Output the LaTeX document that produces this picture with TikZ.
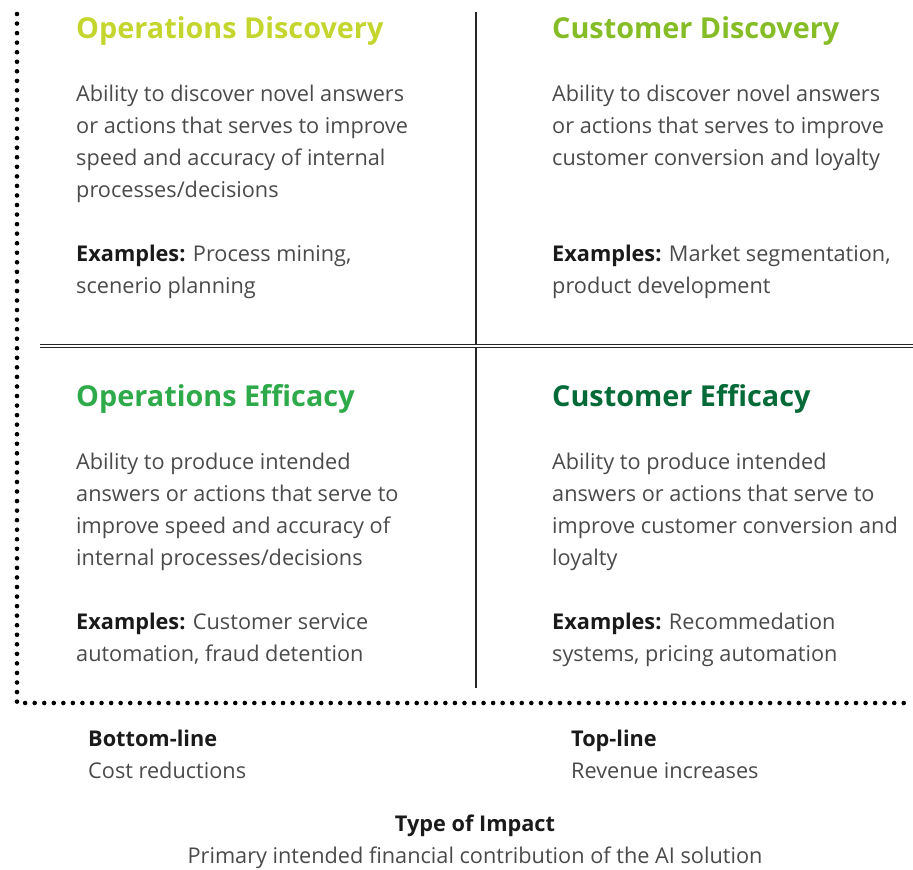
\documentclass[tikz,border=0pt]{standalone}
\usepackage{fontspec}
\setmainfont{Open Sans}
\definecolor{opdisc}{HTML}{C4D62E}
\definecolor{cudisc}{HTML}{86BC25}
\definecolor{opeff}{HTML}{2EAA4A}
\definecolor{cueff}{HTML}{046A38}
\definecolor{bodygray}{HTML}{4A4A4A}
\definecolor{darktxt}{HTML}{1A1A1A}
\begin{document}
\begin{tikzpicture}[x=1pt,y=-1pt,
  title/.style={anchor=base west,inner sep=0pt,font=\fontsize{28.8}{34}\selectfont\bfseries},
  body/.style={anchor=base west,inner sep=0pt,align=left,text=bodygray,font=\fontsize{21.7}{32}\selectfont},
  dots/.style={line width=4.6pt,line cap=round,dash pattern=on 0pt off 9.55pt,black}]
\useasboundingbox (0,0) rectangle (913,870);
% dotted axes
\coordinate (dtop) at (17,14);
\coordinate (dcorner) at (17,703);
\coordinate (dright) at (911,703);
\draw[dots] (dtop) -- (dcorner) -- (dright);
% grid lines
\coordinate (vtop) at (476,12);
\coordinate (vbot) at (476,688);
\coordinate (hleft) at (40,346);
\coordinate (hright) at (913,346);
\draw[line width=2pt,draw=black!85] (vtop) -- (vbot);
\draw[double=white,double distance=1.2pt,line width=1pt,draw=black!85] (hleft) -- (hright);
% quadrant 1 (base anchor = last line baseline)
\node[title,text=opdisc] (t1) at (76,38) {Operations Discovery};
\node[body] (b1) at (76,197) {Ability to discover novel answers\\or actions that serves to improve\\speed and accuracy of internal\\processes/decisions};
\node[body] (e1) at (76,293) {\textcolor{darktxt}{\bfseries Examples:} Process mining,\\scenerio planning};
% quadrant 2
\node[title,text=cudisc] (t2) at (552,38) {Customer Discovery};
\node[body] (b2) at (552,165) {Ability to discover novel answers\\or actions that serves to improve\\customer conversion and loyalty};
\node[body] (e2) at (552,293) {\textcolor{darktxt}{\bfseries Examples:} Market segmentation,\\product development};
% quadrant 3
\node[title,text=opeff] (t3) at (76,406) {Operations Efficacy};
\node[body] (b3) at (76,565) {Ability to produce intended\\answers or actions that serve to\\improve speed and accuracy of\\internal processes/decisions};
\node[body] (e3) at (76,661) {\textcolor{darktxt}{\bfseries Examples:} Customer service\\automation, fraud detention};
% quadrant 4
\node[title,text=cueff] (t4) at (552,406) {Customer Efficacy};
\node[body] (b4) at (552,565) {Ability to produce intended\\answers or actions that serve to\\improve customer conversion and\\loyalty};
\node[body] (e4) at (552,661) {\textcolor{darktxt}{\bfseries Examples:} Recommedation\\systems, pricing automation};
% axis labels
\node[body] (bl) at (88,778) {\textcolor{darktxt}{\bfseries Bottom-line}\\Cost reductions};
\node[body] (tl) at (571,778) {\textcolor{darktxt}{\bfseries Top-line}\\Revenue increases};
\node[body,anchor=base,align=center] (ti) at (475,863) {\textcolor{darktxt}{\bfseries Type of Impact}\\Primary intended financial contribution of the AI solution};
\end{tikzpicture}
\end{document}
